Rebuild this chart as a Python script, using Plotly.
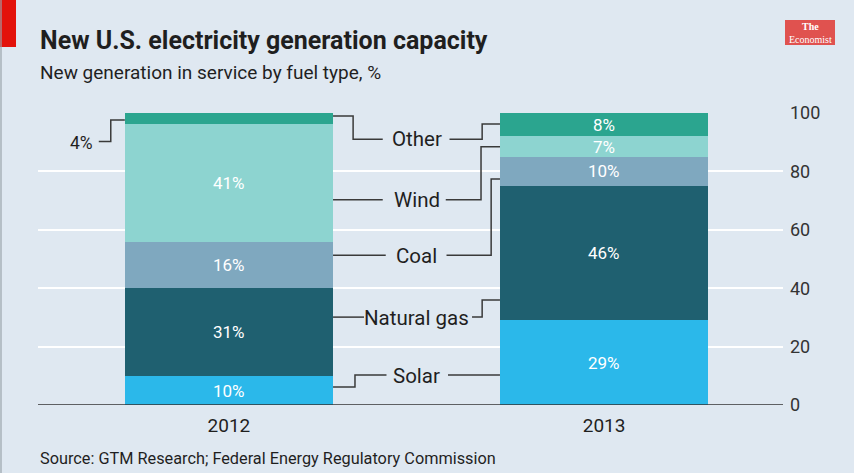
import plotly.graph_objects as go

years = ["2012", "2013"]
fuels = ["Solar", "Natural gas", "Coal", "Wind", "Other"]
values_2012 = [10, 31, 16, 41, 4]
values_2013 = [29, 46, 10, 7, 8]
colors = ["#2bb8ea", "#1f6070", "#7fa8bf", "#8dd4d0", "#2ba58f"]
yticks = [0, 20, 40, 60, 80, 100]

BG = "#dfe8f1"
TXT = "#1f1f1f"
LINE = "#3a3a3a"
FONT = "Roboto"

W, H = 854, 473
ML, MR, MT, MB = 38, 71, 113, 68

xpos = [0, 1]
bw = 0.555
half = bw / 2

# normalise each bar to 100 (rounded labels sum to 102 in 2012)
data = {"2012": values_2012, "2013": values_2013}
shares = {}
for y in years:
    s = sum(data[y])
    shares[y] = [v / s * 100 for v in data[y]]

fig = go.Figure()
for i, f in enumerate(fuels):
    fig.add_trace(go.Bar(
        x=xpos, y=[shares[y][i] for y in years], width=bw,
        marker=dict(color=colors[i], line=dict(width=0)),
        name=f, showlegend=False, hoverinfo="skip"))

ann = []
for j, y in enumerate(years):
    base = 0
    for i, f in enumerate(fuels):
        h = shares[y][i]
        if data[y][i] >= 7:
            ann.append(dict(x=xpos[j], y=base + h / 2, text=f"{data[y][i]}%",
                            showarrow=False, xref="x", yref="y",
                            font=dict(family=FONT, size=17, color="white")))
        base += h

label_y = {"Other": 91, "Wind": 70.3, "Coal": 51, "Natural gas": 29.8, "Solar": 10}
for f in fuels:
    ann.append(dict(x=0.5, y=label_y[f], text=f, showarrow=False, xref="x", yref="y",
                    font=dict(family=FONT, size=20.5, color=TXT)))

ann.append(dict(x=-0.356, y=89.8, text="4%", showarrow=False, xref="x", yref="y",
                xanchor="right", font=dict(family=FONT, size=17.5, color=TXT)))

# pixel-placed texts (converted to paper below)
pix_ann = [
    dict(x=38, y=40, text="<b>New U.S. electricity generation capacity</b>",
         xanchor="left", font=dict(family=FONT, size=25, color=TXT)),
    dict(x=38, y=72, text="New generation in service by fuel type, %",
         xanchor="left", font=dict(family=FONT, size=19, color=TXT)),
    dict(x=38, y=458, text="Source: GTM Research; Federal Energy Regulatory Commission",
         xanchor="left", font=dict(family=FONT, size=16.3, color=TXT)),
    dict(x=810, y=32.5, text="<b>The</b><br>Economist", xanchor="center",
         font=dict(family="Liberation Serif", size=10, color="white")),
]
PW, PH = W - ML - MR, H - MT - MB
def px(x):
    return (x - ML) / PW
def py(y):
    return (H - MB - y) / PH
for a in pix_ann:
    a.update(x=px(a["x"]), y=py(a["y"]), xref="paper", yref="paper",
             yanchor="middle", showarrow=False)
    ann.append(a)

L = 0 + half
R = 1 - half
leaders = [
    [(L, 99), (0.331, 99), (0.331, 91), (0.410, 91)],
    [(0.588, 91), (0.675, 91), (0.675, 96.2), (R, 96.2)],
    [(L, 70.3), (0.410, 70.3)],
    [(0.578, 70.3), (0.672, 70.3), (0.672, 88.4), (R, 88.4)],
    [(L, 51.3), (0.418, 51.3)],
    [(0.580, 51.3), (0.699, 51.3), (0.699, 77.4), (R, 77.4)],
    [(L, 30.1), (0.360, 30.1)],
    [(0.648, 30.1), (0.675, 30.1), (0.675, 36), (R, 36)],
    [(L, 6.2), (0.336, 6.2), (0.336, 10.3), (0.420, 10.3)],
    [(0.584, 10.3), (R, 10.3)],
    [(-0.347, 90.2), (-0.315, 90.2), (-0.315, 97.6), (-half, 97.6)],
]
shapes = []
for pts in leaders:
    path = "M " + " L ".join(f"{x},{y}" for x, y in pts)
    shapes.append(dict(type="path", path=path, xref="x", yref="y",
                       line=dict(color=LINE, width=1.5), layer="above"))

def prect(x0, x1, y0, y1, **kw):
    d = dict(type="rect", xref="paper", yref="paper",
             x0=px(x0), x1=px(x1), y0=py(y0), y1=py(y1))
    d.update(kw)
    return d

shapes.append(prect(0, 16, 0, 47, fillcolor="#e3120b", line=dict(width=0)))
shapes.append(dict(type="line", xref="paper", yref="paper", x0=px(1), x1=px(1),
                   y0=py(0), y1=py(H), line=dict(color="#9aa3ab", width=1.2)))
shapes.append(prect(785, 835, 20, 45, fillcolor="#e0524f", line=dict(width=0)))
shapes.append(dict(type="line", xref="paper", yref="y", x0=0, x1=1, y0=0, y1=0,
                   line=dict(color="#333333", width=1.5), layer="above"))

fig.update_layout(
    barmode="stack",
    width=W, height=H,
    paper_bgcolor=BG, plot_bgcolor=BG,
    margin=dict(l=ML, r=MR, t=MT, b=MB),
    annotations=ann, shapes=shapes,
    bargap=0,
    xaxis=dict(range=[-0.509, 1.477], tickvals=xpos, ticktext=years,
               showgrid=False, zeroline=False, showline=False, ticks="",
               ticklabelstandoff=7,
               tickfont=dict(family=FONT, size=19, color=TXT)),
    yaxis=dict(range=[0, 100], side="right", tickvals=yticks,
               showgrid=True, gridcolor="white", gridwidth=2,
               zeroline=False, showline=False, ticks="", ticklabelstandoff=6,
               tickfont=dict(family=FONT, size=18, color="#333333")),
)

fig.write_html("out.html", config={"displayModeBar": False},
               post_script="document.body.style.margin='0';document.body.style.overflow='hidden';")
